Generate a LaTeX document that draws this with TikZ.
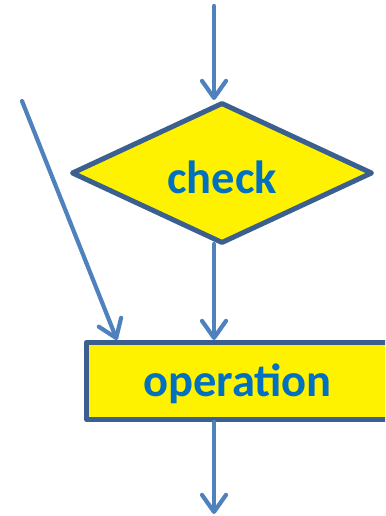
\documentclass[tikz,border=0pt]{standalone}
\usepackage{fontspec}
\setmainfont{Carlito}
\usetikzlibrary{shapes.geometric,arrows.meta}
\definecolor{flowline}{HTML}{4F81BD}
\definecolor{shapeedge}{HTML}{3B5F8E}
\definecolor{labelblue}{HTML}{0070C0}
\tikzset{
  flow/.style={draw=flowline, line width=4.2pt, line cap=round,
    -{Straight Barb[length=17pt,width=24pt,line cap=round,line join=round]}},
  labeltext/.style={text=labelblue, font=\bfseries\fontsize{46.5}{50}\selectfont},
  decision/.style={diamond, draw=shapeedge, line width=5pt, line join=round,
    fill=yellow, inner sep=0pt, minimum width=301pt, minimum height=141pt},
  process/.style={rectangle, draw=shapeedge, line width=5pt, line join=round,
    fill=yellow, inner sep=0pt, minimum width=305pt, minimum height=77pt}
}
\begin{document}
\begin{tikzpicture}[x=1pt,y=-1pt]
  \useasboundingbox (0,0) rectangle (385,516);
  \begin{scope}
    \clip (0,0) rectangle (385,516);
    \node[decision] (chk) at (222,173) {};
    \node[labeltext] (chklabel) at (222,177) {check};
    \node[process] (op) at (239,381) {};
    \node[labeltext] (oplabel) at (237.5,384) {operation};

    \coordinate (in) at (214,6);
    \coordinate (side) at (22,101);
    \coordinate (out) at (214,514);
    \coordinate (chkfoot) at (214,244);
    \coordinate (opin) at (117,338);

    \draw[flow] (in) -- (in |- chk.north);
    \draw[flow] (chkfoot) -- (chkfoot |- op.north);
    \draw[flow] (side) -- (opin |- op.north);
    \draw[flow] (chkfoot |- op.south) -- (out);
  \end{scope}
\end{tikzpicture}
\end{document}
